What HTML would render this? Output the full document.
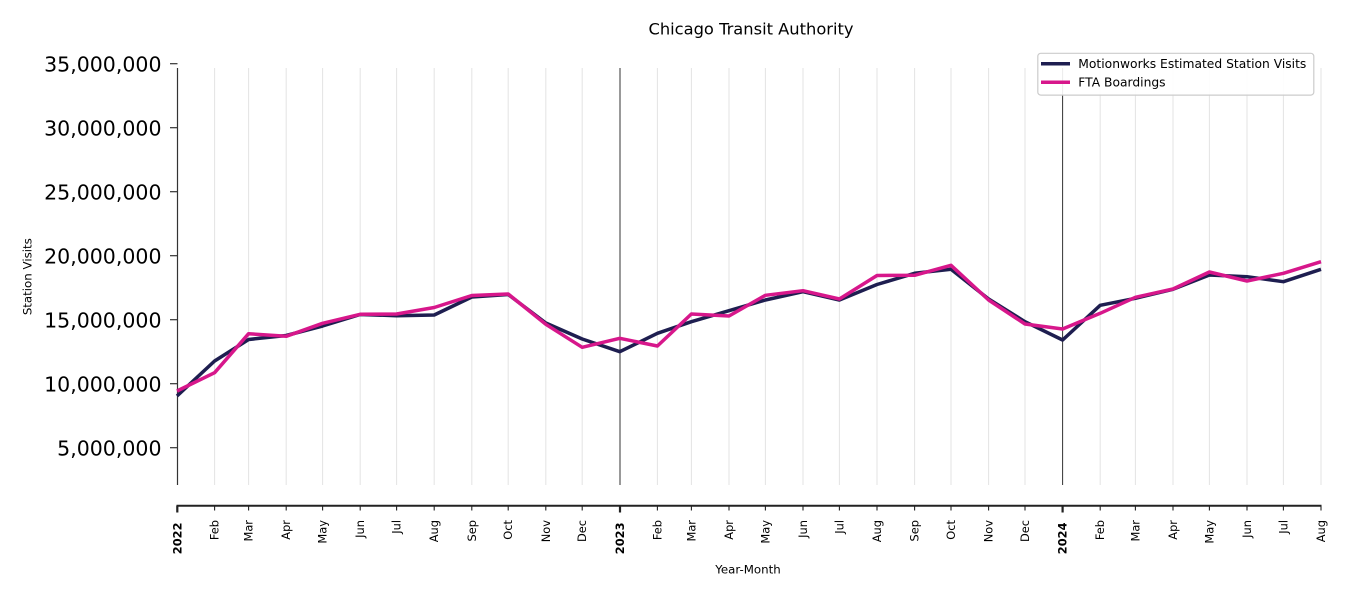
<!DOCTYPE html>
<html>
<head>
<meta charset="utf-8">
<style>
html,body{margin:0;padding:0;background:#fff;}
svg{display:block;}
text{font-family:"DejaVu Sans","Liberation Sans",sans-serif;fill:#000;}
</style>
</head>
<body>
<svg width="1350" height="600" viewBox="0 0 1350 600" xmlns="http://www.w3.org/2000/svg">
<rect width="1350" height="600" fill="#fff"/>
<!-- title -->
<text x="751" y="34.5" font-size="16.3" text-anchor="middle">Chicago Transit Authority</text>

<!-- vertical month grid -->
<g stroke="#e3e3e3" stroke-width="1">
<line x1="214.6" y1="68" x2="214.6" y2="485"/>
<line x1="248.6" y1="68" x2="248.6" y2="485"/>
<line x1="286.2" y1="68" x2="286.2" y2="485"/>
<line x1="322.6" y1="68" x2="322.6" y2="485"/>
<line x1="360.2" y1="68" x2="360.2" y2="485"/>
<line x1="396.6" y1="68" x2="396.6" y2="485"/>
<line x1="434.2" y1="68" x2="434.2" y2="485"/>
<line x1="471.8" y1="68" x2="471.8" y2="485"/>
<line x1="508.2" y1="68" x2="508.2" y2="485"/>
<line x1="545.8" y1="68" x2="545.8" y2="485"/>
<line x1="582.2" y1="68" x2="582.2" y2="485"/>
<line x1="657.4" y1="68" x2="657.4" y2="485"/>
<line x1="691.4" y1="68" x2="691.4" y2="485"/>
<line x1="729.0" y1="68" x2="729.0" y2="485"/>
<line x1="765.4" y1="68" x2="765.4" y2="485"/>
<line x1="803.0" y1="68" x2="803.0" y2="485"/>
<line x1="839.4" y1="68" x2="839.4" y2="485"/>
<line x1="877.0" y1="68" x2="877.0" y2="485"/>
<line x1="914.6" y1="68" x2="914.6" y2="485"/>
<line x1="951.0" y1="68" x2="951.0" y2="485"/>
<line x1="988.6" y1="68" x2="988.6" y2="485"/>
<line x1="1025.0" y1="68" x2="1025.0" y2="485"/>
<line x1="1100.2" y1="68" x2="1100.2" y2="485"/>
<line x1="1135.4" y1="68" x2="1135.4" y2="485"/>
<line x1="1173.0" y1="68" x2="1173.0" y2="485"/>
<line x1="1209.4" y1="68" x2="1209.4" y2="485"/>
<line x1="1247.0" y1="68" x2="1247.0" y2="485"/>
<line x1="1283.4" y1="68" x2="1283.4" y2="485"/>
<line x1="1321.0" y1="68" x2="1321.0" y2="485"/>
</g>
<!-- year lines -->
<g stroke="#333" stroke-width="1">
<line x1="620" y1="68" x2="620" y2="485"/>
<line x1="1062.6" y1="68" x2="1062.6" y2="485"/>
</g>

<!-- y axis -->
<line x1="177.5" y1="68" x2="177.5" y2="485" stroke="#333" stroke-width="1.2"/>
<g stroke="#333" stroke-width="1.2">
<line x1="170" y1="63.7" x2="177.5" y2="63.7"/>
<line x1="170" y1="127.7" x2="177.5" y2="127.7"/>
<line x1="170" y1="191.7" x2="177.5" y2="191.7"/>
<line x1="170" y1="255.7" x2="177.5" y2="255.7"/>
<line x1="170" y1="319.7" x2="177.5" y2="319.7"/>
<line x1="170" y1="383.7" x2="177.5" y2="383.7"/>
<line x1="170" y1="447.7" x2="177.5" y2="447.7"/>
</g>
<g font-size="20.5" text-anchor="end">
<text x="161.5" y="71.3">35,000,000</text>
<text x="161.5" y="135.3">30,000,000</text>
<text x="161.5" y="199.3">25,000,000</text>
<text x="161.5" y="263.3">20,000,000</text>
<text x="161.5" y="327.3">15,000,000</text>
<text x="161.5" y="391.3">10,000,000</text>
<text x="161.5" y="455.3">5,000,000</text>
</g>
<text transform="translate(27.5,276.7) rotate(-90)" font-size="11.8" text-anchor="middle" dominant-baseline="central">Station Visits</text>

<!-- series -->
<polyline fill="none" stroke="#1e1e50" stroke-width="3.5" stroke-linejoin="round"
points="177,396 214.6,361 248.6,339.5 286.2,335.5 322.6,326 360.2,314.5 396.6,315.7 434.2,315 471.8,297 508.2,294.5 545.8,323 582.2,339 619.8,351.7 657.4,333.3 691.4,321.7 729,310.7 765.4,300 803,291.7 839.4,300 877,284.5 914.6,273.3 951,269.3 988.6,299 1025,321.7 1062.6,340 1100.2,305.3 1135.4,298.3 1173,289.3 1209.4,275 1247,276.7 1283.4,281.7 1321,269.3"/>
<polyline fill="none" stroke="#d7178b" stroke-width="3.5" stroke-linejoin="round"
points="177,391 214.6,372.7 248.6,333.7 286.2,336.3 322.6,323.3 360.2,314.3 396.6,314 434.2,307.5 471.8,295.5 508.2,294 545.8,324.3 582.2,347.3 619.8,338.3 657.4,346 691.4,314 729,316 765.4,295.3 803,290.7 839.4,299 877,275.5 914.6,275.3 951,265.3 988.6,300 1025,324 1062.6,329 1100.2,313.3 1135.4,297.3 1173,289 1209.4,272 1247,281 1283.4,273.3 1321,261.7"/>

<!-- x axis -->
<line x1="176.5" y1="505.7" x2="1321.5" y2="505.7" stroke="#222" stroke-width="2"/>
<g stroke="#222" stroke-width="1.1">
<line x1="214.6" y1="505.7" x2="214.6" y2="510.5"/>
<line x1="248.6" y1="505.7" x2="248.6" y2="510.5"/>
<line x1="286.2" y1="505.7" x2="286.2" y2="510.5"/>
<line x1="322.6" y1="505.7" x2="322.6" y2="510.5"/>
<line x1="360.2" y1="505.7" x2="360.2" y2="510.5"/>
<line x1="396.6" y1="505.7" x2="396.6" y2="510.5"/>
<line x1="434.2" y1="505.7" x2="434.2" y2="510.5"/>
<line x1="471.8" y1="505.7" x2="471.8" y2="510.5"/>
<line x1="508.2" y1="505.7" x2="508.2" y2="510.5"/>
<line x1="545.8" y1="505.7" x2="545.8" y2="510.5"/>
<line x1="582.2" y1="505.7" x2="582.2" y2="510.5"/>
<line x1="657.4" y1="505.7" x2="657.4" y2="510.5"/>
<line x1="691.4" y1="505.7" x2="691.4" y2="510.5"/>
<line x1="729.0" y1="505.7" x2="729.0" y2="510.5"/>
<line x1="765.4" y1="505.7" x2="765.4" y2="510.5"/>
<line x1="803.0" y1="505.7" x2="803.0" y2="510.5"/>
<line x1="839.4" y1="505.7" x2="839.4" y2="510.5"/>
<line x1="877.0" y1="505.7" x2="877.0" y2="510.5"/>
<line x1="914.6" y1="505.7" x2="914.6" y2="510.5"/>
<line x1="951.0" y1="505.7" x2="951.0" y2="510.5"/>
<line x1="988.6" y1="505.7" x2="988.6" y2="510.5"/>
<line x1="1025.0" y1="505.7" x2="1025.0" y2="510.5"/>
<line x1="1100.2" y1="505.7" x2="1100.2" y2="510.5"/>
<line x1="1135.4" y1="505.7" x2="1135.4" y2="510.5"/>
<line x1="1173.0" y1="505.7" x2="1173.0" y2="510.5"/>
<line x1="1209.4" y1="505.7" x2="1209.4" y2="510.5"/>
<line x1="1247.0" y1="505.7" x2="1247.0" y2="510.5"/>
<line x1="1283.4" y1="505.7" x2="1283.4" y2="510.5"/>
<line x1="1321.0" y1="505.7" x2="1321.0" y2="510.5"/>
</g>
<g stroke="#222" stroke-width="2.2">
<line x1="177.3" y1="505.7" x2="177.3" y2="512.5"/>
<line x1="620" y1="505.7" x2="620" y2="512.5"/>
<line x1="1062.6" y1="505.7" x2="1062.6" y2="512.5"/>
</g>

<!-- x tick labels -->
<g font-size="11.4" text-anchor="end" dominant-baseline="central">
<text transform="translate(214.6,520) rotate(-90)">Feb</text>
<text transform="translate(248.6,520) rotate(-90)">Mar</text>
<text transform="translate(286.2,520) rotate(-90)">Apr</text>
<text transform="translate(322.6,520) rotate(-90)">May</text>
<text transform="translate(360.2,520) rotate(-90)">Jun</text>
<text transform="translate(396.6,520) rotate(-90)">Jul</text>
<text transform="translate(434.2,520) rotate(-90)">Aug</text>
<text transform="translate(471.8,520) rotate(-90)">Sep</text>
<text transform="translate(508.2,520) rotate(-90)">Oct</text>
<text transform="translate(545.8,520) rotate(-90)">Nov</text>
<text transform="translate(582.2,520) rotate(-90)">Dec</text>
<text transform="translate(657.4,520) rotate(-90)">Feb</text>
<text transform="translate(691.4,520) rotate(-90)">Mar</text>
<text transform="translate(729.0,520) rotate(-90)">Apr</text>
<text transform="translate(765.4,520) rotate(-90)">May</text>
<text transform="translate(803.0,520) rotate(-90)">Jun</text>
<text transform="translate(839.4,520) rotate(-90)">Jul</text>
<text transform="translate(877.0,520) rotate(-90)">Aug</text>
<text transform="translate(914.6,520) rotate(-90)">Sep</text>
<text transform="translate(951.0,520) rotate(-90)">Oct</text>
<text transform="translate(988.6,520) rotate(-90)">Nov</text>
<text transform="translate(1025.0,520) rotate(-90)">Dec</text>
<text transform="translate(1100.2,520) rotate(-90)">Feb</text>
<text transform="translate(1135.4,520) rotate(-90)">Mar</text>
<text transform="translate(1173.0,520) rotate(-90)">Apr</text>
<text transform="translate(1209.4,520) rotate(-90)">May</text>
<text transform="translate(1247.0,520) rotate(-90)">Jun</text>
<text transform="translate(1283.4,520) rotate(-90)">Jul</text>
<text transform="translate(1321.0,520) rotate(-90)">Aug</text>
<text transform="translate(177.3,522.5) rotate(-90)" font-weight="bold">2022</text>
<text transform="translate(620,522.5) rotate(-90)" font-weight="bold">2023</text>
<text transform="translate(1062.6,522.5) rotate(-90)" font-weight="bold">2024</text>
</g>
<text x="748" y="573.5" font-size="11.8" text-anchor="middle">Year-Month</text>

<!-- legend -->
<rect x="1037.8" y="53.3" width="276" height="41.8" rx="3" ry="3" fill="#fff" fill-opacity="0.9" stroke="#cccccc" stroke-width="1.2"/>
<line x1="1041" y1="63.7" x2="1070" y2="63.7" stroke="#1e1e50" stroke-width="3.5"/>
<line x1="1041" y1="82.3" x2="1070" y2="82.3" stroke="#d7178b" stroke-width="3.5"/>
<g font-size="12.3">
<text x="1078.3" y="68">Motionworks Estimated Station Visits</text>
<text x="1078.3" y="86.6">FTA Boardings</text>
</g>
</svg>
</body>
</html>
